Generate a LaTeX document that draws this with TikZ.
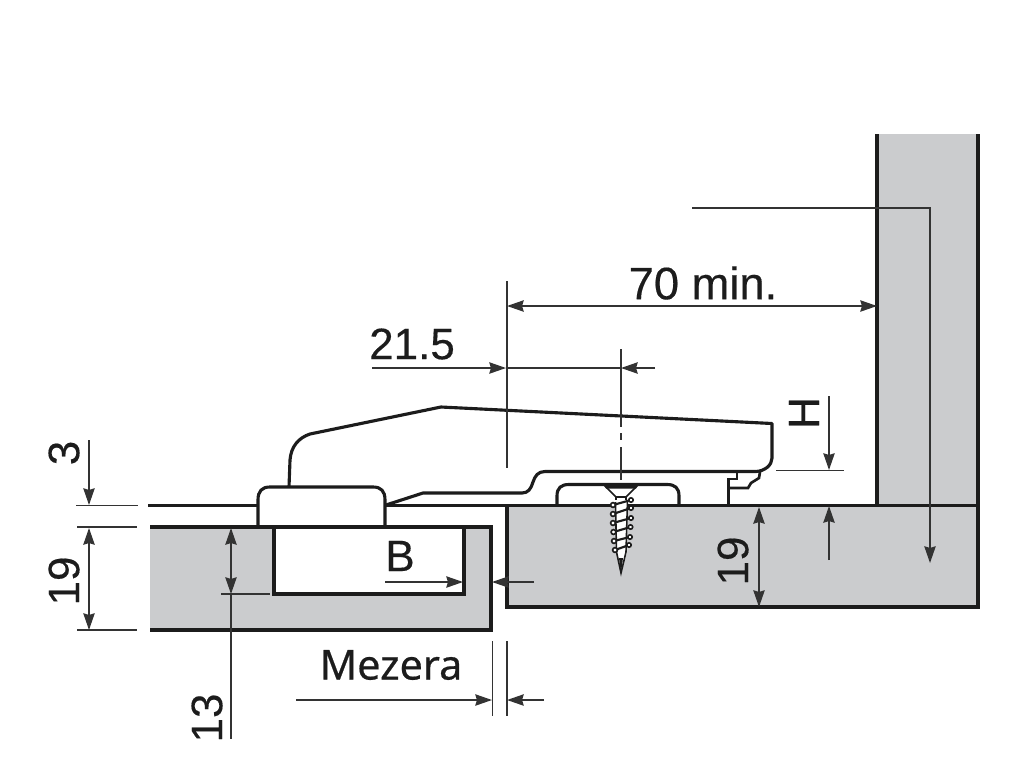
\documentclass[tikz,border=0pt]{standalone}
\usepackage{fontspec}
\setmainfont[FakeBold=0.35]{Liberation Sans}
\newfontfamily\mezfont[FakeBold=0.5]{Noto Sans}
\usetikzlibrary{arrows.meta}
\definecolor{panelgray}{HTML}{CBCCCE}
\definecolor{inkdark}{HTML}{1C1C1C}
\definecolor{dimink}{HTML}{333333}
\tikzset{
  outline/.style={draw=inkdark,line width=2.35pt,line join=miter},
  dimline/.style={draw=dimink,line width=1.25pt},
  thinline/.style={draw=dimink,line width=1.05pt},
  tipped/.style={-{Stealth[length=12.5pt,width=8.5pt,inset=1.2pt]}},
  bothtip/.style={{Stealth[length=12.5pt,width=8.5pt,inset=1.2pt]}-{Stealth[length=12.5pt,width=8.5pt,inset=1.2pt]}},
  lab/.style={font=\fontsize{33}{33}\selectfont,text=inkdark,inner sep=0pt},
  labv/.style={lab,rotate=90},
  screwline/.style={draw=inkdark,line width=1.2pt},
}
\begin{document}
\begin{tikzpicture}[x=0.75pt,y=-0.75pt]
\useasboundingbox (0,0) rectangle (1024,768);
% panels
\fill[panelgray] (150,527) rectangle (491,630);
\fill[white] (274,527) rectangle (464,594);
\fill[panelgray] (507,506) rectangle (978,607);
\fill[panelgray] (877,134) rectangle (978,506);
% left panel outline
\draw[outline] (150,527) -- (491,527) -- (491,630) -- (150,630);
\draw[outline] (274,527) -- (274,594) -- (464,594) -- (464,527);
% right panel outline
\draw[outline] (877,134) -- (877,505);
\draw[outline] (978,134) -- (978,607) -- (507,607) -- (507,505);
\draw[outline] (385,505.5) -- (978,505.5);
\draw[outline] (148,505.5) -- (258,505.5);
% cup
\draw[outline] (258,527) -- (258,500) .. controls (258,491) and (262,487) .. (270,487)
  -- (373,487) .. controls (381,487) and (385,491) .. (385,500) -- (385,527);
% hinge arm
\draw[outline,line join=round] (289,487) -- (290,460) .. controls (291,447) and (298,438) .. (310,434)
  -- (441,407) -- (772,423.5) -- (772,458) .. controls (772,465) and (765,471) .. (756,471.5)
  -- (545,471.5) .. controls (538,471.5) and (535,476) .. (533,482)
  .. controls (531,489) and (528,493) .. (522,493) -- (423,493) -- (386,505);
% plate under screw
\draw[outline] (557,505) -- (557,496) .. controls (557,488) and (561,484.5) .. (569,484.5)
  -- (667,484.5) .. controls (675,484.5) and (679,488) .. (679,496) -- (679,505);
% clip
\draw[draw=inkdark,line width=2pt] (728.5,505) -- (728.5,479) -- (737,479) -- (737,472);
\draw[draw=inkdark,line width=2pt] (728.5,488) -- (748,488) -- (751,483) -- (759,478) -- (760,472);
% screw
\fill[white] (604,485) -- (638,485) -- (627,497) -- (627,505) -- (615,505) -- (615,497) -- cycle;
\fill[inkdark] (603,483) -- (639,483) -- (636,488.5) -- (606,488.5) -- cycle;
\draw[screwline] (604,485) -- (616,497) -- (616,502);
\draw[screwline] (638,485) -- (626,497) -- (626,502);
\draw[screwline] (616,497) -- (626,497);
\fill[white] (615,500) -- (628,500) -- (627,552) -- (621,573) -- (616,552) -- cycle;
\draw[screwline] (615.5,502) -- (616.5,552) -- (621,573) -- (626,552) -- (627.5,500);
\fill[inkdark] (619,558) -- (621,573) -- (623,558) -- cycle;
\foreach \yl/\yr/\xl/\xr in {505/500/613/631,514/508/613/631,523/518/613/631,532/527/613.5/630.5,541/537/614/630,550/545/615/629}{
  \draw[draw=inkdark,line width=1.6pt] (\xl,\yl) -- (\xr,\yr);
  \draw[screwline,fill=white] (\xl,\yl) circle[radius=2.4];
  \draw[screwline,fill=white] (\xr,\yr) circle[radius=2.2];
}
% centre line
\draw[thinline] (621,349) -- (621,427);
\draw[thinline] (621,433) -- (621,440);
\draw[thinline] (621,447) -- (621,480);
% 70 min
\coordinate (a70l) at (507,306);
\coordinate (a70r) at (877,306);
\draw[dimline] (507,281) -- (507,468);
\draw[dimline,bothtip] (a70l) -- (a70r);
\node[lab,font=\fontsize{34}{34}\selectfont] (t70) at (703,283) {70 min.};
% 21.5
\coordinate (a21s) at (372,368);
\coordinate (a21m) at (506,368);
\coordinate (a21e) at (655,368);
\coordinate (a21c) at (621,368);
\draw[dimline,tipped] (a21s) -- (a21m);
\draw[dimline] (a21m) -- (a21c);
\draw[dimline,tipped] (a21e) -- (a21c);
\node[lab] (t21) at (412,344) {21.5};
% leader to corner
\coordinate (ldA) at (692,208);
\coordinate (ldB) at (930,208);
\coordinate (ldC) at (930,563);
\draw[dimline,tipped] (ldA) -- (ldB) -- (ldC);
% H
\coordinate (hA) at (829,396);
\coordinate (hB) at (829,470);
\coordinate (hC) at (829,560);
\coordinate (hD) at (829,506);
\draw[dimline,tipped] (hA) -- (hB);
\draw[thinline] (776,470.5) -- (844,470.5);
\draw[dimline,tipped] (hC) -- (hD);
\node[labv] (tH) at (804,413) {H};
% 19 right
\coordinate (r19a) at (759,507);
\coordinate (r19b) at (759,607);
\draw[dimline,bothtip] (r19a) -- (r19b);
\node[labv] (t19r) at (733,561) {19};
% left 3 / 19
\draw[thinline] (76,505.5) -- (138,505.5);
\draw[thinline] (77,527) -- (137,527);
\draw[thinline] (77,630) -- (137,630);
\coordinate (l3a) at (89,440);
\coordinate (l3b) at (89,505);
\draw[dimline,tipped] (l3a) -- (l3b);
\coordinate (l19a) at (89,528);
\coordinate (l19b) at (89,630);
\draw[dimline,bothtip] (l19a) -- (l19b);
\node[labv] (t3) at (64,453) {3};
\node[labv] (t19l) at (64,581) {19};
% 13
\coordinate (d13a) at (231,528);
\coordinate (d13b) at (231,594);
\coordinate (d13c) at (231,739);
\draw[dimline,bothtip] (d13a) -- (d13b);
\draw[dimline] (d13b) -- (d13c);
\draw[thinline] (221,594) -- (270,594);
\node[labv] (t13) at (207,718) {13};
% B
\node[lab] (tB) at (400,556) {B};
\coordinate (bA) at (385,582);
\coordinate (bB) at (463,582);
\coordinate (bC) at (534,582);
\coordinate (bD) at (492,582);
\draw[dimline,tipped] (bA) -- (bB);
\draw[dimline,tipped] (bC) -- (bD);
% Mezera
\node[lab,font=\mezfont\fontsize{31}{31}\selectfont] (tM) at (391,665) {Mezera};
\draw[thinline] (492.5,641) -- (492.5,716);
\draw[thinline] (507,641) -- (507,716);
\coordinate (mA) at (296,700);
\coordinate (mB) at (492,700);
\coordinate (mC) at (544,700);
\coordinate (mD) at (507,700);
\draw[dimline,tipped] (mA) -- (mB);
\draw[dimline,tipped] (mC) -- (mD);
\end{tikzpicture}
\end{document}
